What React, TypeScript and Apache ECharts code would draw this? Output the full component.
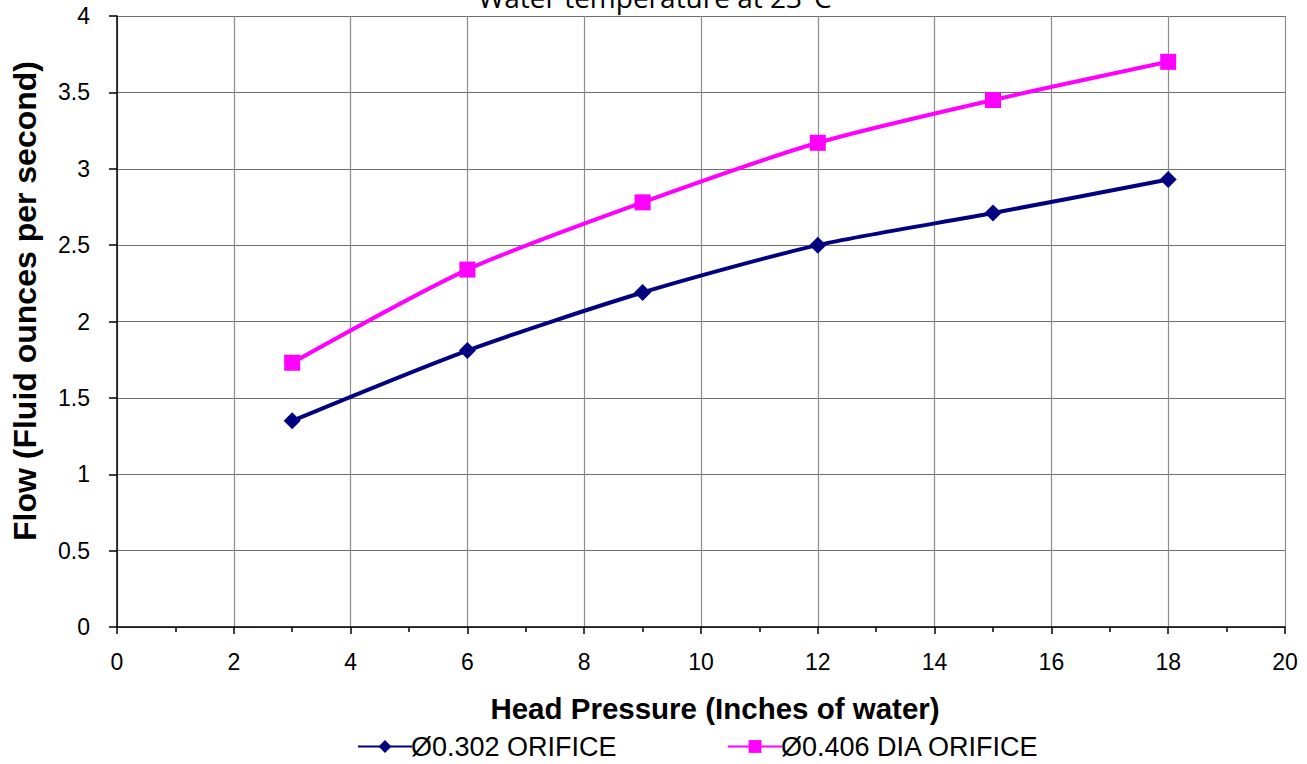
import React, { useEffect, useRef } from "react";
import * as echarts from "echarts";

const titleText = "Water temperature at 23°C";
const xName = "Head Pressure (Inches of water)";
const yName = "Flow (Fluid ounces per second)";
const seriesNames = ["Ø0.302 ORIFICE", "Ø0.406 DIA ORIFICE"];
const headPressure = [3, 6, 9, 12, 15, 18];
const flow302 = [1.35, 1.81, 2.19, 2.5, 2.71, 2.93];
const flow406 = [1.73, 2.34, 2.78, 3.17, 3.45, 3.7];

const FONT = "'Liberation Sans', Arial, sans-serif";

export default function App() {
  const ref = useRef<HTMLDivElement>(null);
  useEffect(() => {
    const chart = echarts.init(ref.current!, null, { renderer: "svg" });
    const legendBase = {
      top: 733,
      padding: 0,
      itemWidth: 54,
      itemHeight: 16,
      textStyle: { fontSize: 27, lineHeight: 27, color: "#000", fontFamily: FONT, padding: [0, 0, 0, -6] },
    };
    chart.setOption({
      animation: false,
      backgroundColor: "#ffffff",
      textStyle: { fontFamily: FONT },
      grid: { left: 117, right: 22, top: 16, bottom: 137, containLabel: false },
      graphic: [
        {
          type: "text",
          x: 655,
          y: 11,
          style: {
            text: titleText,
            font: "28px 'Open Sans', sans-serif",
            fill: "#000",
            textAlign: "center",
            textVerticalAlign: "bottom",
          },
        },
        {
          type: "text",
          x: 25,
          y: 301,
          rotation: Math.PI / 2,
          style: {
            text: yName,
            font: "bold 32px 'Liberation Sans', Arial, sans-serif",
            fill: "#000",
            textAlign: "center",
            textVerticalAlign: "middle",
          },
        },
      ],
      legend: [
        { ...legendBase, left: 357, data: [seriesNames[0]] },
        { ...legendBase, left: 727, data: [seriesNames[1]] },
      ],
      xAxis: {
        type: "value",
        min: 0,
        max: 20,
        interval: 2,
        name: xName,
        nameLocation: "middle",
        nameGap: 66,
        nameTextStyle: {
          fontSize: 29.5,
          fontWeight: "bold",
          color: "#000",
          fontFamily: FONT,
          padding: [0, 0, 0, 28],
        },
        axisLine: { show: true, onZero: false, lineStyle: { color: "#000", width: 1.5 } },
        axisTick: { show: true, length: 7, lineStyle: { color: "#000", width: 1.5 } },
        minorTick: { show: true, splitNumber: 2, length: 5, lineStyle: { color: "#000", width: 1.5 } },
        axisLabel: { fontSize: 23, color: "#000", margin: 23, fontFamily: FONT },
        splitLine: { show: true, lineStyle: { color: "#8c8c8c", width: 1.2 } },
      },
      yAxis: {
        type: "value",
        min: 0,
        max: 4,
        interval: 0.5,
        axisLine: { show: true, lineStyle: { color: "#000", width: 1.5 } },
        axisTick: { show: true, length: 8, lineStyle: { color: "#000", width: 1.5 } },
        axisLabel: { fontSize: 23, color: "#000", margin: 27, fontFamily: FONT },
        splitLine: { show: true, lineStyle: { color: "#6e6e6e", width: 1.2 } },
      },
      series: [
        {
          name: seriesNames[0],
          type: "line",
          data: headPressure.map((x, i) => [x, flow302[i]]),
          smooth: 0.25,
          symbol: "diamond",
          symbolSize: 17,
          lineStyle: { color: "#000080", width: 4 },
          itemStyle: { color: "#000080" },
        },
        {
          name: seriesNames[1],
          type: "line",
          data: headPressure.map((x, i) => [x, flow406[i]]),
          smooth: 0.25,
          symbol: "rect",
          symbolSize: 16,
          lineStyle: { color: "#ff00ff", width: 4 },
          itemStyle: { color: "#ff00ff" },
        },
      ],
    });
    return () => chart.dispose();
  }, []);
  return (
    <div
      ref={ref}
      style={{ position: "fixed", left: 0, top: 0, width: 1307, height: 764, background: "#fff" }}
    />
  );
}
